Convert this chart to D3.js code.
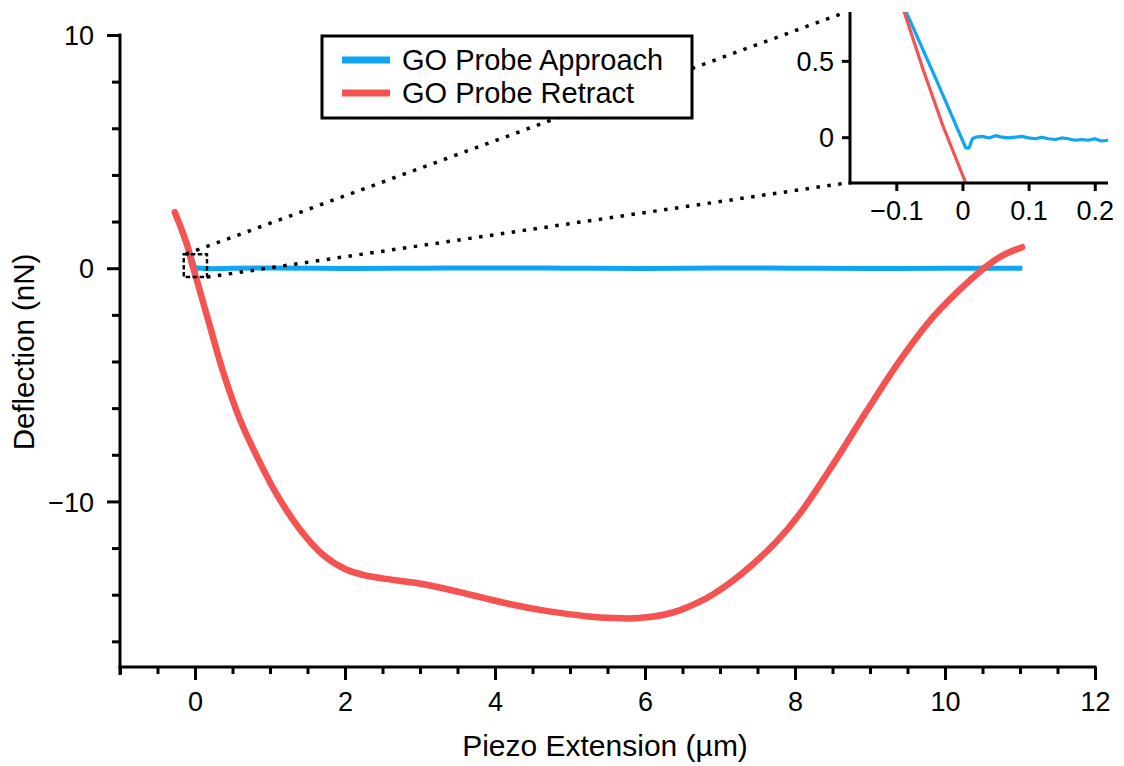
<!DOCTYPE html>
<html>
<head>
<meta charset="utf-8">
<script src="https://cdn.jsdelivr.net/npm/d3@7"></script>
<style>
  html, body { margin: 0; padding: 0; background: #fff; }
  svg { display: block; }
  text { font-family: "Liberation Sans", Arial, Helvetica, sans-serif; fill: #000; }
</style>
</head>
<body>
<svg id="chart" width="1124" height="766"></svg>
<script>
// Force curve: piezo extension (µm) vs cantilever deflection (nN)
const approachX = [-0.27, -0.2, -0.15, -0.085, -0.04, 0.0, 0.005, 0.010, 0.015, 0.02, 0.03, 0.04, 0.05, 0.06, 0.07,
  0.08, 0.09, 0.10, 0.11, 0.12, 0.13, 0.14, 0.15, 0.16, 0.17, 0.18, 0.19, 0.20, 0.21, 0.22,
  0.5, 1, 2, 3, 4, 5, 6, 7, 8, 9, 10, 11.03];
const approachY = [2.4, 1.8, 1.32, 0.82, 0.38, -0.02, -0.07, -0.07, -0.01, 0.0, 0.005, -0.005, 0.01, 0.0, -0.005,
  0.0, 0.005, -0.005, -0.01, 0.0, -0.01, -0.015, -0.005, -0.01, -0.02, -0.015, -0.02, -0.01, -0.025, -0.02,
  0.0, 0.01, -0.01, 0.0, 0.01, 0.0, -0.01, 0.01, 0.0, -0.01, 0.0, 0.0];

const retractX = [-0.27, -0.2, -0.15, -0.088, -0.06, -0.03, 0.005, 0.05, 0.2, 0.37, 0.6, 0.83, 1.09, 1.4, 1.71, 2.0,
  2.24, 2.5, 2.91, 3.2, 3.57, 3.9, 4.24, 4.6, 4.91, 5.25, 5.57, 5.8, 6.03, 6.25, 6.47, 6.73,
  6.91, 7.15, 7.4, 7.76, 8.07, 8.51, 8.96, 9.4, 9.84, 10.29, 10.6, 10.8, 11.03];
const retractY = [2.4, 1.85, 1.42, 0.82, 0.45, 0.08, -0.3, -0.8, -2.5, -4.4, -6.5, -8.1, -9.7, -11.2, -12.3, -12.9,
  -13.15, -13.3, -13.48, -13.65, -13.92, -14.18, -14.43, -14.65, -14.8, -14.93, -15.0, -15.02, -14.97, -14.86, -14.66, -14.3,
  -13.98, -13.45, -12.8, -11.7, -10.5, -8.4, -6.1, -3.95, -2.1, -0.64, 0.2, 0.6, 0.9];

const seriesNames = ["GO Probe Approach", "GO Probe Retract"];
const seriesColors = ["#0ea5f2", "#f55252"];

// axis settings
const xDomain = [-1, 12];
const yDomain = [-17.1, 10];
const xMajorTicks = [0, 2, 4, 6, 8, 10, 12];
const xMinorStep = 0.5;
const yMajorTicks = [-10, 0, 10];
const yMinorStep = 2;

// inset (zoom on the contact point)
const insetXDomain = [-0.17, 0.22];
const insetYDomain = [-0.30, 0.82];
const insetXTicks = [-0.1, 0, 0.1, 0.2];
const insetYTicks = [0, 0.5];
// region marked on the main plot
const zoomBoxX = [-0.15, 0.16];
const zoomBoxY = [-0.38, 0.6];

const approach = approachX.map((x, i) => ({x, y: approachY[i]}));
const retract = retractX.map((x, i) => ({x, y: retractY[i]}));

const svg = d3.select("#chart");

const plot = {left: 120, right: 1095, top: 35, bottom: 667};
const x = d3.scaleLinear().domain(xDomain).range([plot.left, plot.right]);
const y = d3.scaleLinear().domain(yDomain).range([plot.bottom, plot.top]);

const fmt = d3.format("");

// ----- main axes -----
const xMinor = d3.range(xDomain[0], xDomain[1] + 1e-9, xMinorStep).filter(v => !xMajorTicks.some(t => Math.abs(t - v) < 1e-9));
const yMinor = d3.range(-16, yDomain[1] + 1e-9, yMinorStep).filter(v => !yMajorTicks.some(t => Math.abs(t - v) < 1e-9));

const xAxisMajor = d3.axisBottom(x).tickValues(xMajorTicks).tickSize(13).tickPadding(12).tickFormat(fmt);
const xAxisMinor = d3.axisBottom(x).tickValues(xMinor).tickSize(7).tickFormat("");
const yAxisMajor = d3.axisLeft(y).tickValues(yMajorTicks).tickSize(13).tickPadding(13).tickFormat(fmt);
const yAxisMinor = d3.axisLeft(y).tickValues(yMinor).tickSize(8).tickFormat("");

function styleAxis(g, fontSize) {
  g.selectAll(".domain").remove();
  g.selectAll("line").attr("stroke", "#000").attr("stroke-width", 3);
  g.selectAll("text").attr("font-size", fontSize).attr("font-family", "Liberation Sans, Arial, sans-serif").attr("fill", "#000");
}

const gx = svg.append("g").attr("transform", `translate(0,${plot.bottom})`);
gx.append("g").call(xAxisMinor).call(g => styleAxis(g, 27));
gx.append("g").call(xAxisMajor).call(g => styleAxis(g, 27));

const gy = svg.append("g").attr("transform", `translate(${plot.left},0)`);
gy.append("g").call(yAxisMinor).call(g => styleAxis(g, 27));
gy.append("g").call(yAxisMajor).call(g => styleAxis(g, 27));
gy.selectAll("text").attr("dy", "0.36em");

// axis lines
svg.append("line").attr("x1", plot.left - 1.5).attr("x2", x(12) + 1.5)
  .attr("y1", plot.bottom).attr("y2", plot.bottom).attr("stroke", "#000").attr("stroke-width", 3);
svg.append("line").attr("x1", plot.left).attr("x2", plot.left)
  .attr("y1", y(10) - 1.5).attr("y2", plot.bottom + 8).attr("stroke", "#000").attr("stroke-width", 3);

// axis titles
svg.append("text").attr("x", 605).attr("y", 756)
  .attr("text-anchor", "middle").attr("font-size", 30).text("Piezo Extension (µm)");
svg.append("text").attr("transform", `translate(34,352) rotate(-90)`)
  .attr("text-anchor", "middle").attr("font-size", 29.5).text("Deflection (nN)");

// ----- data lines -----
const line = d3.line().x(d => x(d.x)).y(d => y(d.y)).curve(d3.curveCatmullRom.alpha(0.5));
svg.append("path").datum(approach).attr("d", line)
  .attr("fill", "none").attr("stroke", seriesColors[0]).attr("stroke-width", 5).attr("stroke-linejoin", "round");
svg.append("path").datum(retract).attr("d", line)
  .attr("fill", "none").attr("stroke", seriesColors[1]).attr("stroke-width", 6.5).attr("stroke-linejoin", "round").attr("stroke-linecap", "round");

// ----- zoom window + connector lines -----
const inset = {left: 850, right: 1108, top: 12, bottom: 183};
const ix = d3.scaleLinear().domain(insetXDomain).range([inset.left, inset.right]);
const iy = d3.scaleLinear().domain(insetYDomain).range([inset.bottom, inset.top]);

const bx0 = x(zoomBoxX[0]), bx1 = x(zoomBoxX[1]);
const by0 = y(zoomBoxY[1]), by1 = y(zoomBoxY[0]);
svg.append("rect").attr("x", bx0).attr("y", by0).attr("width", bx1 - bx0).attr("height", by1 - by0)
  .attr("fill", "none").attr("stroke", "#000").attr("stroke-width", 2.4).attr("stroke-dasharray", "4.5 2.5");

svg.append("line").attr("x1", bx0 + 2).attr("y1", by0).attr("x2", inset.left - 4).attr("y2", inset.top)
  .attr("stroke", "#000").attr("stroke-width", 3.5).attr("stroke-dasharray", "3.5 7.5");
svg.append("line").attr("x1", bx1).attr("y1", by1).attr("x2", inset.left - 4).attr("y2", inset.bottom)
  .attr("stroke", "#000").attr("stroke-width", 3.5).attr("stroke-dasharray", "3.5 7.5");

// ----- inset -----
const gi = svg.append("g");
gi.append("clipPath").attr("id", "inset-clip").append("rect")
  .attr("x", inset.left).attr("y", inset.top).attr("width", inset.right - inset.left).attr("height", inset.bottom - inset.top);

const iline = d3.line().x(d => ix(d.x)).y(d => iy(d.y));
const ilines = gi.append("g").attr("clip-path", "url(#inset-clip)");
ilines.append("path").datum(approach).attr("d", iline)
  .attr("fill", "none").attr("stroke", seriesColors[0]).attr("stroke-width", 3.2).attr("stroke-linejoin", "round");
ilines.append("path").datum(retract).attr("d", iline)
  .attr("fill", "none").attr("stroke", seriesColors[1]).attr("stroke-width", 3.2).attr("stroke-linejoin", "round");

const ixAxis = d3.axisBottom(ix).tickValues(insetXTicks).tickSize(8).tickPadding(10).tickFormat(d3.format(""));
const iyAxis = d3.axisLeft(iy).tickValues(insetYTicks).tickSize(8).tickPadding(8).tickFormat(d3.format(""));
gi.append("g").attr("transform", `translate(0,${inset.bottom})`).call(ixAxis).call(g => styleAxis(g, 27));
gi.append("g").attr("transform", `translate(${inset.left},0)`).call(iyAxis).call(g => styleAxis(g, 27))
  .selectAll("text").attr("dy", "0.36em");
gi.append("line").attr("x1", inset.left - 1.5).attr("x2", inset.right).attr("y1", inset.bottom).attr("y2", inset.bottom)
  .attr("stroke", "#000").attr("stroke-width", 3);
gi.append("line").attr("x1", inset.left).attr("x2", inset.left).attr("y1", inset.top).attr("y2", inset.bottom + 1.5)
  .attr("stroke", "#000").attr("stroke-width", 3);

// ----- legend -----
const legend = svg.append("g").attr("transform", "translate(322,36)");
legend.append("rect").attr("width", 370).attr("height", 82)
  .attr("fill", "#fff").attr("stroke", "#000").attr("stroke-width", 3);
seriesNames.forEach((name, i) => {
  const row = legend.append("g").attr("transform", `translate(0,${24 + i * 33})`);
  row.append("line").attr("x1", 20).attr("x2", 68).attr("y1", 0).attr("y2", 0)
    .attr("stroke", seriesColors[i]).attr("stroke-width", 7);
  row.append("text").attr("x", 80).attr("y", 10).attr("font-size", 29).text(name);
});
</script>
</body>
</html>
